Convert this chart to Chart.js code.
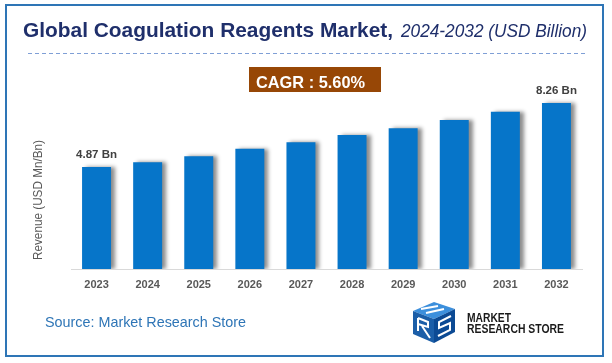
<!DOCTYPE html>
<html><head><meta charset="utf-8">
<script src="https://cdn.jsdelivr.net/npm/chart.js@4.4.0/dist/chart.umd.min.js"></script>
<style>
html,body{margin:0;padding:0;background:#fff;}
#wrap{position:relative;width:612px;height:363px;overflow:hidden;}
canvas{position:absolute;left:0;top:0;}
</style></head>
<body><div id="wrap"><canvas id="c" width="612" height="363"></canvas></div>
<script>
const years = ['2023','2024','2025','2026','2027','2028','2029','2030','2031','2032'];
const revenue = [4.87, 5.12, 5.44, 5.83, 6.18, 6.57, 6.92, 7.36, 7.79, 8.26];
const labelledIdx = [0, 9];
const titleMain = 'Global Coagulation Reagents Market,';
const titleSub = '2024-2032 (USD Billion)';
const cagrText = 'CAGR : 5.60%';
const yTitle = 'Revenue (USD Mn/Bn)';
const sourceText = 'Source: Market Research Store';
const logoLines = ['MARKET', 'RESEARCH STORE'];
const yMin = -0.53, yMax = 9;

const FF = "'Liberation Sans', Arial, sans-serif";

function fitText(ctx, text, x, y, w, font, color) {
  ctx.save();
  ctx.font = font;
  const m = ctx.measureText(text).width;
  ctx.translate(x, y);
  ctx.scale(w / m, 1);
  ctx.fillStyle = color;
  ctx.textAlign = 'left';
  ctx.textBaseline = 'alphabetic';
  ctx.fillText(text, 0, 0);
  ctx.restore();
}

const deco = {
  id: 'deco',
  beforeDatasetsDraw(chart) {
    const ctx = chart.ctx;
    ctx.save();
    ctx.shadowColor = 'rgba(0,0,0,0.45)';
    ctx.shadowOffsetX = 4;
    ctx.shadowOffsetY = 0;
    ctx.shadowBlur = 4;
  },
  afterDatasetsDraw(chart) {
    const ctx = chart.ctx;
    ctx.restore();
    const meta = chart.getDatasetMeta(0);
    ctx.save();
    ctx.font = 'bold 11.5px ' + FF;
    ctx.fillStyle = '#404040';
    ctx.textAlign = 'center';
    ctx.textBaseline = 'alphabetic';
    labelledIdx.forEach(i => {
      const el = meta.data[i];
      ctx.fillText(revenue[i].toFixed(2) + ' Bn', el.x, el.y - 9);
    });
    ctx.restore();
  },
  afterDraw(chart) {
    const ctx = chart.ctx;
    ctx.save();
    ctx.strokeStyle = '#2e75b6';
    ctx.lineWidth = 2;
    ctx.strokeRect(6, 5, 597, 351);
    ctx.restore();
    fitText(ctx, titleMain, 23, 37, 370, 'bold 21px ' + FF, '#1f2f6b');
    fitText(ctx, titleSub, 401, 37, 186, 'italic 19px ' + FF, '#1f2f6b');
    ctx.save();
    ctx.strokeStyle = '#7f9fd6';
    ctx.lineWidth = 1;
    ctx.setLineDash([4, 3]);
    ctx.beginPath();
    ctx.moveTo(28, 53.5);
    ctx.lineTo(587, 53.5);
    ctx.stroke();
    ctx.restore();
    ctx.save();
    ctx.fillStyle = '#974706';
    ctx.fillRect(249, 67, 132, 25);
    ctx.restore();
    fitText(ctx, cagrText, 256, 87.5, 109, 'bold 17px ' + FF, '#ffffff');
    ctx.save();
    ctx.translate(42, 200);
    ctx.rotate(-Math.PI / 2);
    ctx.font = '12px ' + FF;
    const tw = ctx.measureText(yTitle).width;
    ctx.scale(120 / tw, 1);
    ctx.fillStyle = '#595959';
    ctx.textAlign = 'center';
    ctx.textBaseline = 'alphabetic';
    ctx.fillText(yTitle, 0, 0);
    ctx.restore();
    fitText(ctx, sourceText, 45, 326.5, 201, '15px ' + FF, '#2e75b6');
    ctx.save();
    const poly = (pts, col) => { ctx.beginPath(); ctx.moveTo(pts[0][0], pts[0][1]); for (let k = 1; k < pts.length; k++) ctx.lineTo(pts[k][0], pts[k][1]); ctx.closePath(); ctx.fillStyle = col; ctx.fill(); };
    poly([[413,311],[434,302],[455,309],[434,319]], '#3c8fdc');
    poly([[413,311],[434,319],[434,343],[413,334]], '#1b5ea8');
    poly([[434,319],[455,309],[455,332],[434,343]], '#0c4a94');
    ctx.strokeStyle = '#ffffff';
    ctx.lineWidth = 2;
    ctx.beginPath();
    ctx.moveTo(421,309); ctx.lineTo(438,306);
    ctx.moveTo(426,313); ctx.lineTo(444,309);
    ctx.moveTo(418,318); ctx.lineTo(418,331);
    ctx.moveTo(418,318); ctx.lineTo(428,322); ctx.lineTo(428,327); ctx.lineTo(418,324);
    ctx.moveTo(422,326); ctx.lineTo(430,338);
    ctx.moveTo(451,316); ctx.lineTo(439,322); ctx.lineTo(439,328); ctx.lineTo(450,323); ctx.lineTo(450,330); ctx.lineTo(438,336);
    ctx.stroke();
    ctx.restore();
    fitText(ctx, logoLines[0], 467, 322, 44, 'bold 12.5px ' + FF, '#1a1a1a');
    fitText(ctx, logoLines[1], 467, 332.5, 97, 'bold 12.5px ' + FF, '#1a1a1a');
  }
};

new Chart(document.getElementById('c'), {
  type: 'bar',
  data: {
    labels: years,
    datasets: [{
      data: revenue,
      base: yMin,
      backgroundColor: '#0675c9',
      borderWidth: 0,
      barPercentage: 0.567,
      categoryPercentage: 1
    }]
  },
  options: {
    responsive: false,
    animation: false,
    devicePixelRatio: 1,
    layout: { padding: { left: 71, right: 30, top: 89, bottom: 64 } },
    plugins: { legend: { display: false }, tooltip: { enabled: false } },
    scales: {
      x: {
        grid: { display: false },
        border: { display: true, color: '#d9d9d9', width: 1 },
        ticks: { font: { family: FF, size: 11, weight: 'bold' }, color: '#595959', padding: 1 },
        afterFit: s => { s.height = 30; }
      },
      y: { display: false, min: yMin, max: yMax }
    }
  },
  plugins: [deco]
});
</script></body></html>
